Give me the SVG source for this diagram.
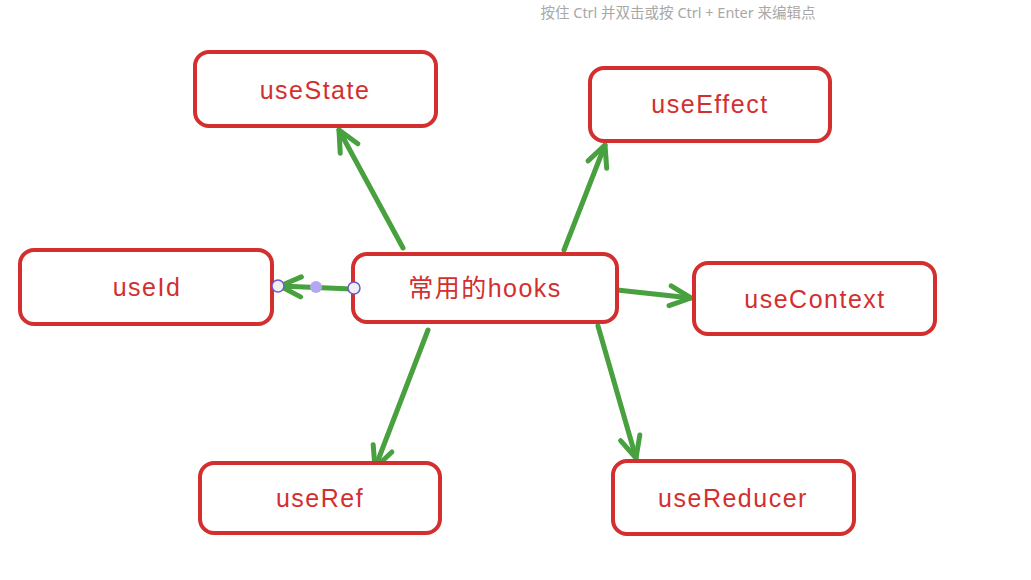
<svg xmlns="http://www.w3.org/2000/svg" width="1031" height="580" viewBox="0 0 1031 580">
<defs>
<style>
.node rect{fill:#ffffff;stroke:#d32f2f;stroke-width:4;}
.node text{fill:#d32f2f;font-family:"Liberation Sans","Noto Sans CJK SC",sans-serif;font-size:25px;letter-spacing:1.5px;text-anchor:middle;dominant-baseline:central;}
.conn line{stroke:#48a03f;stroke-width:5;stroke-linecap:round;fill:none;}
.hint{fill:#a8a8a8;font-family:"Noto Sans","Noto Sans CJK SC",sans-serif;font-size:14.5px;text-anchor:middle;}
</style>
<marker id="ah" viewBox="-24 -13 28 26" refX="0" refY="0" markerWidth="28" markerHeight="26" markerUnits="userSpaceOnUse" orient="auto">
<path d="M-21,-10 L0,0 L-21,10" fill="none" stroke="#48a03f" stroke-width="5" stroke-linecap="round" stroke-linejoin="round"/>
</marker>
</defs>
<rect width="1031" height="580" fill="#ffffff"/>
<text class="hint" x="678" y="18">按住 Ctrl 并双击或按 Ctrl + Enter 来编辑点</text>
<g id="connectors" class="conn">
<line x1="403" y1="248" x2="339" y2="130" marker-end="url(#ah)"/>
<line x1="564" y1="250" x2="605" y2="145" marker-end="url(#ah)"/>
<line x1="352" y1="289" x2="280" y2="286" marker-end="url(#ah)"/>
<line x1="617" y1="290" x2="691" y2="298" marker-end="url(#ah)"/>
<line x1="428" y1="330" x2="375" y2="468" marker-end="url(#ah)"/>
<line x1="598" y1="326" x2="636" y2="458" marker-end="url(#ah)"/>
</g>
<g id="useState" class="node"><rect x="195" y="52" width="241" height="74" rx="14"/><text x="315" y="90">useState</text></g>
<g id="useEffect" class="node"><rect x="590" y="68" width="240" height="73" rx="14"/><text x="710" y="104">useEffect</text></g>
<g id="useId" class="node"><rect x="20" y="250" width="252" height="74" rx="14"/><text x="147" y="287">useId</text></g>
<g id="hooks" class="node"><rect x="353" y="254" width="264" height="68" rx="14"/><text x="485" y="288">常用的hooks</text></g>
<g id="useContext" class="node"><rect x="694" y="263" width="241" height="71" rx="14"/><text x="815" y="299">useContext</text></g>
<g id="useRef" class="node"><rect x="200" y="463" width="240" height="70" rx="14"/><text x="320" y="498">useRef</text></g>
<g id="useReducer" class="node"><rect x="613" y="461" width="241" height="73" rx="14"/><text x="733" y="498">useReducer</text></g>
<g id="handles">
<circle cx="278" cy="286" r="6" fill="#f0f0f0" stroke="#6a5acd" stroke-width="1.5"/>
<circle cx="316" cy="287" r="6" fill="#b4a8f0"/>
<circle cx="354" cy="288" r="6" fill="#f0f0f0" stroke="#6a5acd" stroke-width="1.5"/>
</g>
</svg>
